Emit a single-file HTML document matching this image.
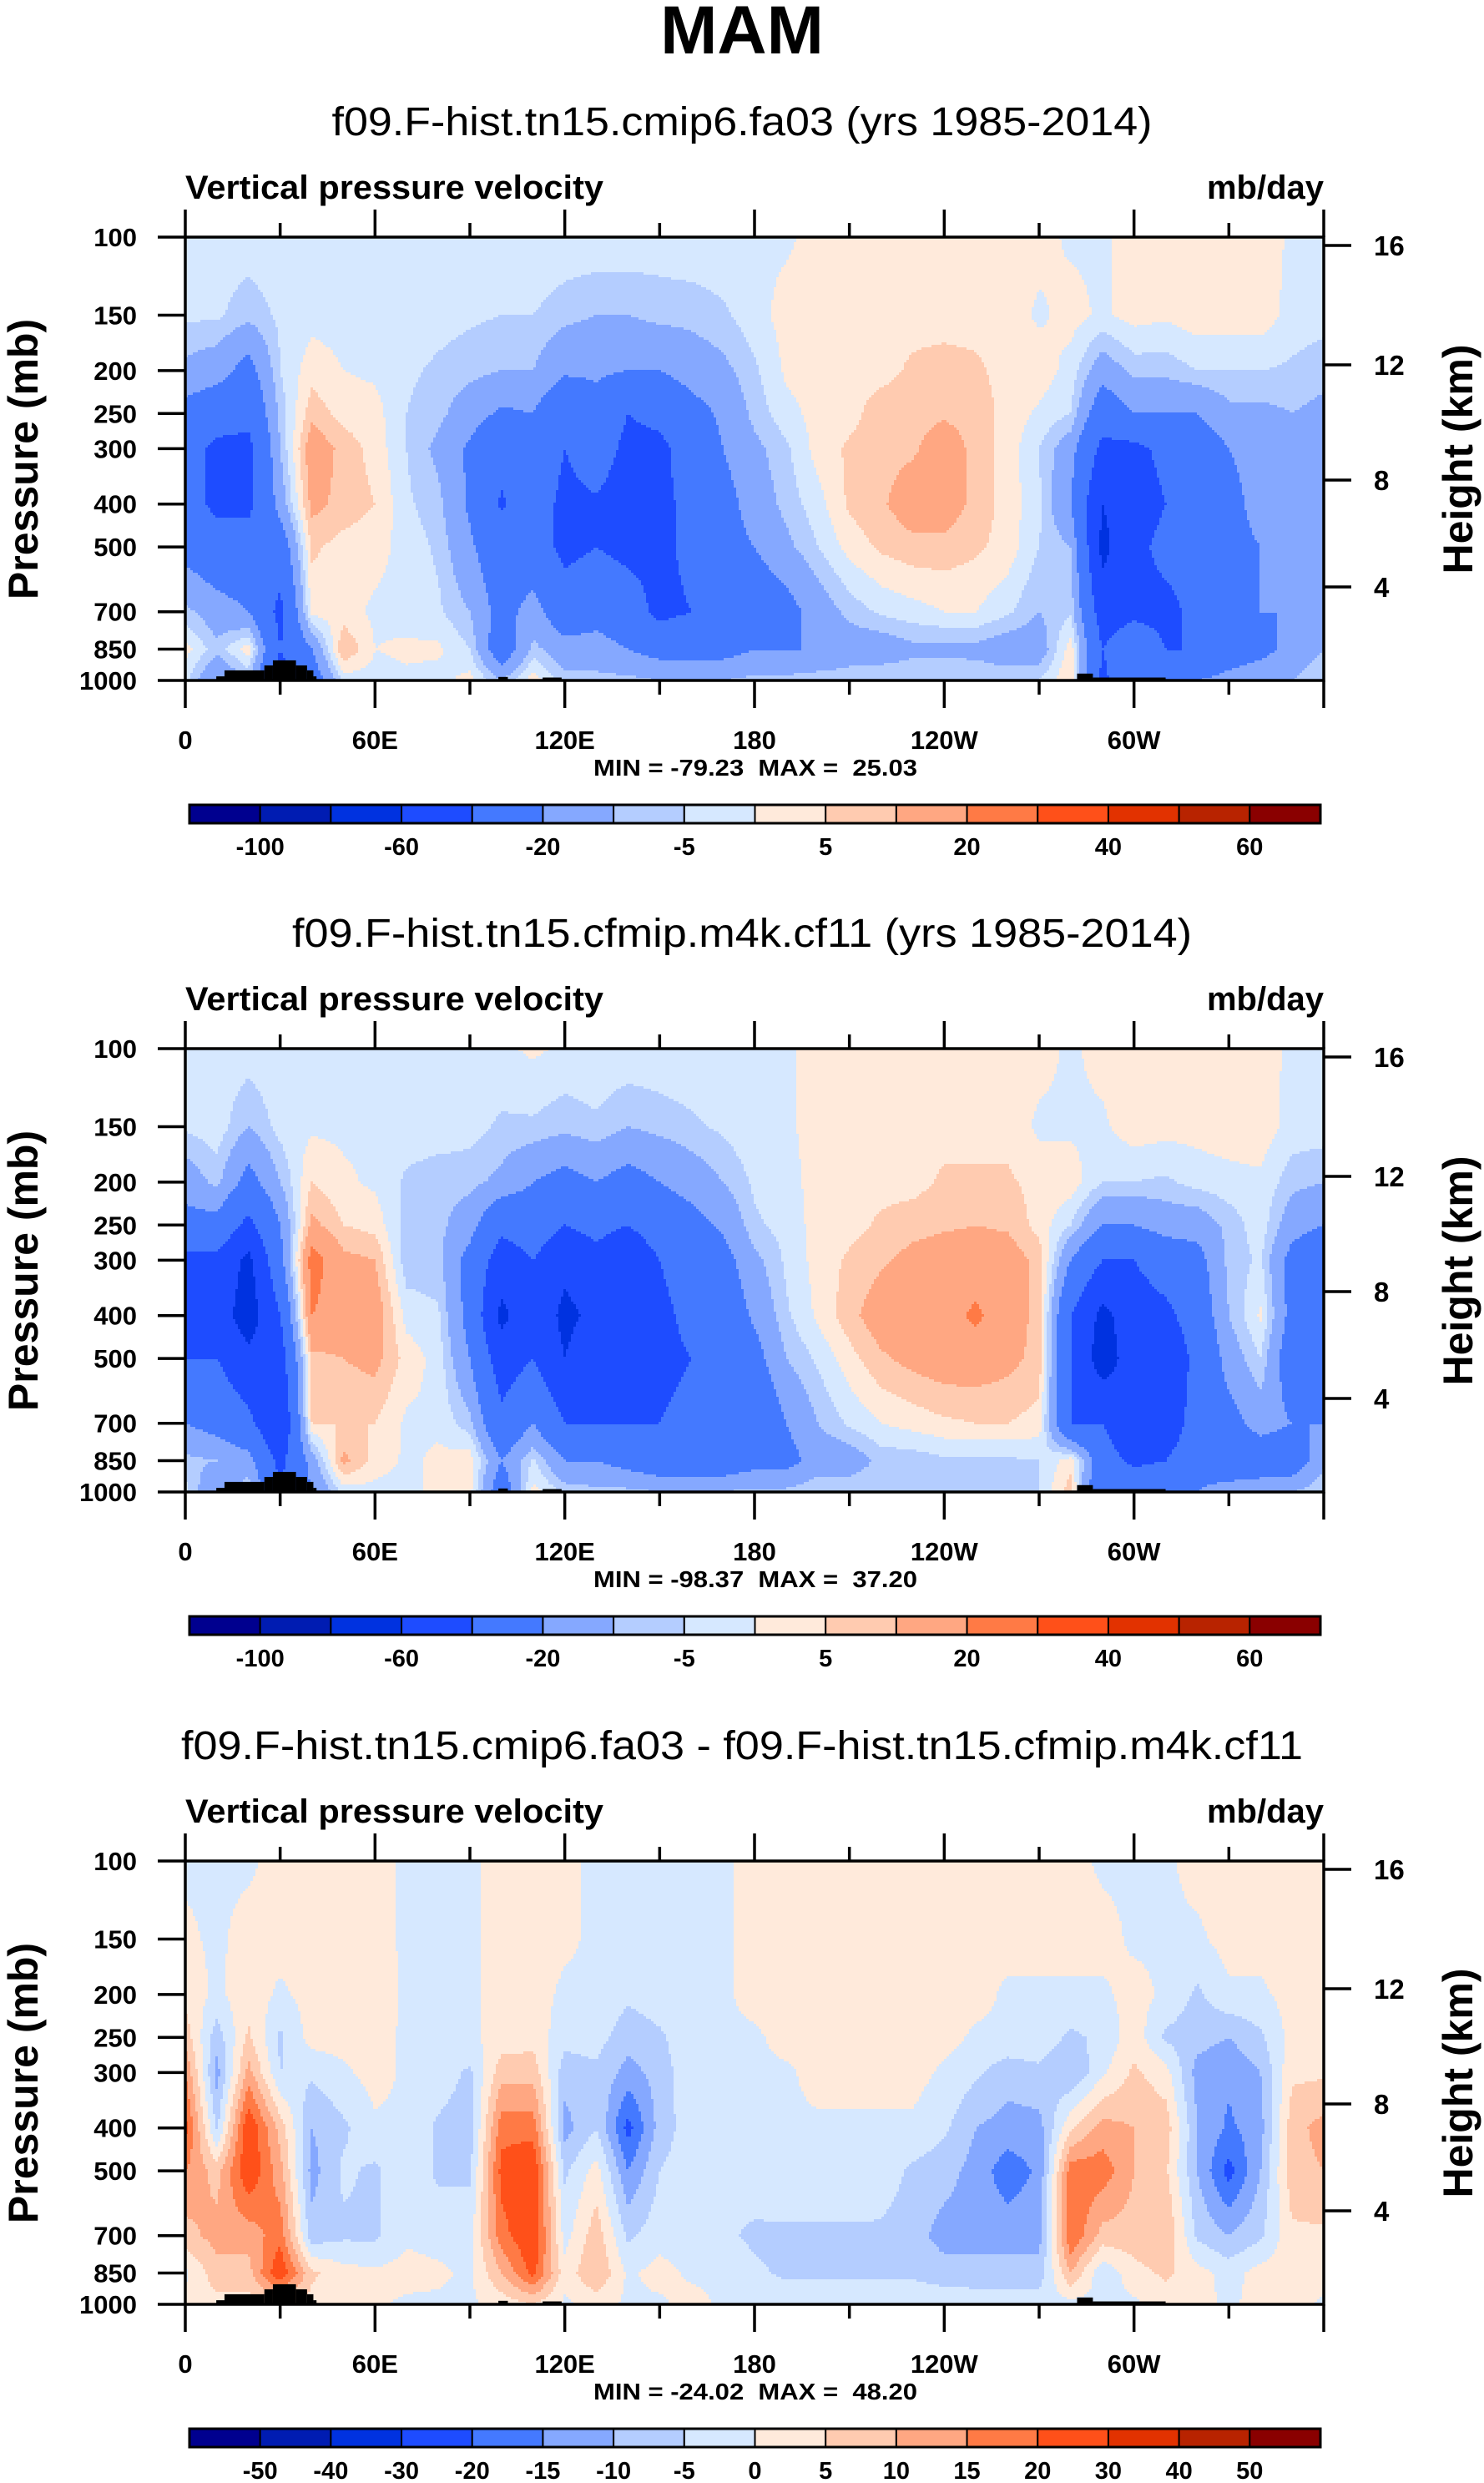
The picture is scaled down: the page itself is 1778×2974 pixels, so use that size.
<!DOCTYPE html>
<html><head><meta charset="utf-8">
<style>
html,body{margin:0;padding:0;background:#fff;}
svg{display:block;font-family:"Liberation Sans",sans-serif;}
.b{font-weight:bold;}
</style></head>
<body>
<svg id="chart" width="1778" height="2974" viewBox="0 0 1778 2974" xmlns="http://www.w3.org/2000/svg">
<rect x="0" y="0" width="1778" height="2974" fill="#fff"/>
<text x="889" y="64" text-anchor="middle" class="b" font-size="82">MAM</text>
</svg>
<script>
// ---- data ----
const lons = [0,10,20,30,40,50,60,70,80,90,100,110,120,130,140,150,160,170,180,190,200,210,220,230,240,250,260,270,280,290,300,310,320,330,340,350,360];
const pLevels = [100,150,200,250,300,400,500,700,850,1000];
const omega1 = [
[-2,-4,-12,-25,-30,-30,-25,-8,2,-3],
[-2,-4,-15,-30,-45,-45,-30,-15,-8,-20],
[-2,-8,-25,-35,-45,-45,-30,-20,3,-10],
[-1,-4,-5,-8,-10,-15,-30,-45,-40,-50],
[0,-2,3,8,15,12,6,2,-20,-30],
[-2,-2,0,3,8,8,3,2,10,-3],
[-1,-1,-1,2,3,5,2,-1,0,-2],
[-1,-2,-4,-5,-5,-4,-2,-2,1,-1],
[-1,-3,-6,-8,-12,-8,-6,-4,1,-2],
[-1,-4,-8,-15,-22,-22,-18,-10,-5,2],
[0,-5,-10,-22,-35,-42,-30,-25,-30,-10],
[0,-5,-10,-20,-25,-30,-30,-15,-8,3],
[-1,-8,-18,-35,-40,-45,-45,-30,-15,-8],
[-1,-10,-18,-25,-30,-42,-40,-25,-15,-8],
[-1,-10,-20,-40,-45,-50,-45,-30,-20,-8],
[-2,-8,-20,-35,-45,-45,-45,-45,-25,-10],
[-1,-8,-15,-25,-30,-35,-35,-40,-25,-10],
[-1,-6,-12,-18,-20,-25,-25,-30,-25,-10],
[-1,-2,-6,-8,-12,-15,-20,-30,-20,-8],
[-1,2,1,-2,-6,-8,-12,-25,-20,-8],
[2,3,3,2,2,-2,-5,-15,-20,-6],
[2,3,3,3,6,6,2,-8,-15,-6],
[3,3,3,8,8,9,6,-4,-15,-5],
[3,3,6,8,9,14,8,-2,-12,-5],
[3,3,7,9,14,14,8,0,-12,-5],
[2,3,6,8,8,8,6,0,-12,-6],
[3,3,3,3,3,3,3,-4,-15,-6],
[2,-1,3,-1,-5,-4,-5,-10,-15,-5],
[-1,2,-2,-5,-15,-20,-10,-6,3,5],
[-1,-1,-15,-30,-45,-60,-65,-50,-40,-45],
[2,2,-8,-20,-45,-50,-45,-45,-25,-20],
[2,1,-8,-20,-35,-40,-35,-45,-40,-25],
[2,3,-5,-20,-30,-30,-35,-35,-40,-20],
[2,3,-5,-12,-20,-25,-25,-30,-30,-15],
[3,3,-5,-12,-15,-15,-20,-20,-25,-10],
[-1,-2,-6,-10,-15,-15,-15,-20,-15,-10],
[-1,-3,-8,-12,-15,-15,-12,-10,-10,-5]
];
const omega2 = [
[-2,-4,-15,-25,-45,-50,-40,-20,-8,-3],
[-2,-2,-8,-25,-45,-50,-40,-25,-10,-20],
[-2,-10,-25,-45,-65,-70,-55,-35,-15,-5],
[-1,-3,-10,-20,-25,-40,-50,-60,-45,-40],
[-1,-1,5,12,25,20,8,5,-15,-20],
[-1,-1,1,5,12,15,10,5,12,-3],
[-1,-1,-1,3,10,15,12,5,3,-2],
[-1,-2,-6,-7,-8,-2,3,-1,-1,-2],
[-1,-2,-8,-8,-8,-4,-2,-1,1,2],
[-1,-3,-8,-15,-25,-25,-20,-8,3,2],
[-1,-6,-12,-35,-50,-65,-50,-35,-20,-30],
[1,-6,-20,-30,-40,-45,-40,-20,-4,2],
[-1,-8,-25,-40,-55,-65,-60,-40,-20,-6],
[-1,-6,-20,-35,-45,-55,-45,-40,-20,-8],
[-1,-10,-25,-40,-55,-60,-55,-40,-25,-8],
[-1,-8,-20,-30,-40,-45,-45,-40,-30,-10],
[-1,-6,-15,-25,-30,-35,-40,-35,-30,-10],
[-1,-4,-10,-18,-25,-30,-35,-40,-30,-10],
[-1,-1,-4,-6,-12,-18,-25,-35,-25,-8],
[-1,-1,-2,-3,-4,-6,-10,-20,-25,-8],
[2,2,2,2,2,1,-4,-10,-15,-5],
[2,2,3,3,6,8,3,-4,-15,-5],
[2,3,3,6,9,14,9,0,-8,-5],
[2,3,3,8,12,14,12,2,-8,-5],
[2,3,6,9,14,16,14,4,-6,-5],
[2,3,6,10,14,22,14,5,-6,-5],
[2,3,6,9,14,14,12,5,-6,-5],
[2,-1,3,3,8,8,8,3,-5,-5],
[-1,-1,3,-5,-20,-40,-40,-40,3,8],
[2,-1,-5,-20,-40,-65,-70,-40,-30,-40],
[3,3,-5,-20,-40,-50,-50,-60,-45,-20],
[2,2,-6,-15,-30,-45,-55,-55,-40,-20],
[2,2,-3,-15,-25,-30,-35,-30,-25,-20],
[2,3,-2,-8,-8,-10,-15,-25,-30,-15],
[2,3,-1,-2,-4,1,-5,-15,-30,-12],
[-1,-2,-8,-15,-25,-25,-30,-20,-30,-10],
[-1,-2,-10,-20,-35,-35,-25,-20,-12,-5]
];
const omegaDiff = [
[-1,1,3,8,15,22,15,8,-1,2],
[-1,-1,-1,-8,-12,-6,8,12,8,3],
[-1,2,3,6,12,25,25,12,8,3],
[2,2,-1,-6,-5,8,12,18,25,5],
[2,2,2,2,-4,-10,-12,-8,6,3],
[2,2,2,2,-1,-6,-4,-6,2,2],
[2,2,3,2,2,-1,-6,-6,1,1],
[-1,-1,-1,-1,-1,-1,-1,-1,2,-1],
[-1,-1,-1,-1,-2,-6,-6,-2,1,-1],
[-1,-1,-1,-1,-6,-8,-6,-2,-1,-1],
[2,2,2,2,8,18,22,18,10,2],
[2,2,2,3,8,18,25,25,22,5],
[1,1,-1,-3,-8,-12,-6,-2,2,-1],
[-1,-1,-1,-3,-6,-5,2,8,10,2],
[-1,-2,-4,-8,-12,-22,-15,-6,-1,-1],
[-1,-1,-2,-6,-8,-8,-5,-2,2,-1],
[-1,-1,-1,-1,-1,-2,-2,-4,-1,2],
[-1,-1,-1,-1,-1,-1,-4,-4,-1,-1],
[2,2,2,-1,-1,-1,-2,-6,-4,-1],
[2,2,2,2,-1,-1,-1,-6,-6,-1],
[2,2,2,2,2,-1,-1,-6,-6,-1],
[2,2,2,2,2,-1,-1,-6,-6,-1],
[2,2,2,2,2,-1,-2,-6,-6,-1],
[2,2,2,2,2,-1,-6,-8,-6,-1],
[2,2,2,2,-1,-4,-8,-12,-8,-1],
[2,2,2,-1,-4,-10,-12,-12,-8,-2],
[2,2,-1,-1,-8,-12,-18,-12,-8,-2],
[2,2,-1,-2,-6,-12,-14,-12,-8,-2],
[2,2,-1,-6,-10,4,18,20,10,-2],
[-1,2,-1,-4,-1,12,18,8,-4,-1],
[-1,-1,2,3,6,10,10,8,3,-1],
[-1,-1,-1,-6,2,8,6,10,6,2],
[2,-1,-6,-8,-12,-10,-10,-6,2,2],
[2,2,-1,-10,-14,-16,-22,-10,-2,-1],
[2,2,-1,-6,-10,-12,-10,-6,2,2],
[2,2,2,2,4,8,8,4,2,2],
[2,2,2,2,4,12,10,4,2,-1]
];
const levelsAbs = [-100,-80,-60,-40,-20,-10,-5,0,5,10,20,30,40,50,60];
const levelsDiff = [-50,-40,-30,-20,-15,-10,-5,0,5,10,15,20,30,40,50];
const cbLabelsAbs = ["-100","","-60","","-20","","-5","","5","","20","","40","","60"];
const cbLabelsDiff = ["-50","-40","-30","-20","-15","-10","-5","0","5","10","15","20","30","40","50"];
const palette = ["#00008f","#001cb2","#0032e0","#1e4cff","#4479ff","#85a8ff","#b4cdff","#d6e8ff","#ffeadb","#ffcbb0","#ffa782","#ff7a45","#ff5019","#e23200","#b82300","#8a0000"];
const topoStart = [9.8,12.4,25,27.7,35,38.5,40.5,99,113,282,287];
const topoEnd   = [12.4,25,27.7,35,38.5,40.5,41.5,102,119,287,310];
const topoP     = [979,949,925,901,925,949,979,982,985,965,985];
const pTicks = [100,150,200,250,300,400,500,700,850,1000];
const kmTicks = ["16","12","8","4"];
const lonTickVals = [0,60,120,180,240,300];
const lonTickLabels = ["0","60E","120E","180","120W","60W"];
const subtitles = ["f09.F-hist.tn15.cmip6.fa03 (yrs 1985-2014)","f09.F-hist.tn15.cfmip.m4k.cf11 (yrs 1985-2014)","f09.F-hist.tn15.cmip6.fa03 - f09.F-hist.tn15.cfmip.m4k.cf11"];
const subtitleWidths = [983,1078,1344];
const minmax = ["MIN = -79.23  MAX =  25.03","MIN = -98.37  MAX =  37.20","MIN = -24.02  MAX =  48.20"];

// ---- layout ----
const NS = "http://www.w3.org/2000/svg";
const svg = document.getElementById('chart');
const X0 = 222, W = 1364, H = 531;
const panelTops = [284, 1256, 2229];
const kmOffsets = [10,153,291,419];
function xOf(lon){ return X0 + lon / 360 * W; }
function yOf(p, top){ return top + H * Math.log10(p / 100); }
function mk(tag, attrs, parent){
  const e = document.createElementNS(NS, tag);
  for (const k in attrs) e.setAttribute(k, attrs[k]);
  (parent || svg).appendChild(e);
  return e;
}
function valueAt(data, lon, p){
  let j = Math.floor(lon / 10); if (j > 35) j = 35; if (j < 0) j = 0;
  const t = (lon - lons[j]) / 10;
  const lp = Math.log10(p);
  let k = 0;
  while (k < pLevels.length - 2 && Math.log10(pLevels[k + 1]) < lp) k++;
  const l0 = Math.log10(pLevels[k]), l1 = Math.log10(pLevels[k + 1]);
  let s = (lp - l0) / (l1 - l0); s = Math.max(0, Math.min(1, s));
  const a = data[j][k] * (1 - s) + data[j][k + 1] * s;
  const b = data[j + 1][k] * (1 - s) + data[j + 1][k + 1] * s;
  return a * (1 - t) + b * t;
}
function colorIdx(v, levels){
  let i = 0;
  while (i < levels.length && v >= levels[i]) i++;
  return i;
}
function drawField(data, levels, top, pi){
  const g = mk('g', {}, svg);
  
  
  const step = 3;
  for (let yi = 0; yi < H; yi += step){
    const h = Math.min(step, H - yi);
    const p = 100 * Math.pow(10, (yi + h / 2) / H);
    let runStart = 0, runC = -1;
    for (let xi = 0; ; xi += step){
      const end = xi >= W;
      let c = -2;
      if (!end){
        const lon = Math.min((xi + step / 2) / W * 360, 360);
        c = colorIdx(valueAt(data, lon, p), levels);
      }
      if (c !== runC){
        if (runC >= 0){
          const r = mk('rect', {x: X0 + runStart, y: top + yi, width: Math.min(xi, W) - runStart + 0.6, height: h + 0.6, fill: palette[runC]}, g);
          
          
        }
        runStart = xi; runC = c;
      }
      if (end) break;
    }
  }
  for (let i = 0; i < topoStart.length; i++){
    const y = yOf(topoP[i], top);
    const t = mk('rect', {x: xOf(topoStart[i]), y: y, width: xOf(topoEnd[i]) - xOf(topoStart[i]), height: top + H - y, fill: '#000'}, g);
    
    
  }
}
function txt(x, y, s, size, attrs, name){
  const t = mk('text', Object.assign({x: x, y: y, 'font-size': size}, attrs || {}));
  t.textContent = s;
  
  
  return t;
}
function drawPanel(pi, data, levels, cbLabels){
  const top = panelTops[pi];
  txt(889, top - 122, subtitles[pi], 48, {'text-anchor': 'middle', textLength: subtitleWidths[pi], lengthAdjust: 'spacingAndGlyphs'}, 'panel-title');
  txt(X0, top - 46, 'Vertical pressure velocity', 40, {'class': 'b', textLength: 501, lengthAdjust: 'spacingAndGlyphs'}, 'variable-label');
  txt(X0 + W, top - 46, 'mb/day', 40, {'class': 'b', 'text-anchor': 'end'}, 'units-label');
  drawField(data, levels, top, pi);
  const frame = mk('rect', {x: X0, y: top, width: W, height: H, fill: 'none', stroke: '#000', 'stroke-width': 3.5});
  
  
  pTicks.forEach(function(p){
    const y = yOf(p, top);
    const l = mk('line', {x1: X0 - 33, x2: X0, y1: y, y2: y, stroke: '#000', 'stroke-width': 3.5});
    
    
    txt(164, y + 11, String(p), 31, {'class': 'b', 'text-anchor': 'end'}, 'y-tick-label');
  });
  kmTicks.forEach(function(k, i){
    const y = top + kmOffsets[i];
    const l = mk('line', {x1: X0 + W, x2: X0 + W + 33, y1: y, y2: y, stroke: '#000', 'stroke-width': 3.5});
    
    
    txt(1646, y + 12, k, 33, {'class': 'b'}, 'height-tick-label');
  });
  for (let lon = 0; lon <= 360; lon += 30){
    const major = lon % 60 === 0;
    const x = xOf(lon);
    const len = major ? 33 : 17;
    const b = mk('line', {x1: x, x2: x, y1: top + H, y2: top + H + len, stroke: '#000', 'stroke-width': 3.5});
    
    
    const t = mk('line', {x1: x, x2: x, y1: top, y2: top - len, stroke: '#000', 'stroke-width': 3.5});
    
    
  }
  lonTickVals.forEach(function(lon, i){
    txt(xOf(lon), top + H + 82, lonTickLabels[i], 31, {'class': 'b', 'text-anchor': 'middle'}, 'x-tick-label');
  });
  txt(905, top + H + 114, minmax[pi], 28, {'class': 'b', 'text-anchor': 'middle', textLength: 388, lengthAdjust: 'spacingAndGlyphs', 'xml:space': 'preserve', style: 'white-space:pre'}, 'min-max-label');
  txt(0, 0, 'Pressure (mb)', 50, {'class': 'b', 'text-anchor': 'middle', transform: 'translate(45,' + (top + 266) + ') rotate(-90)'}, 'y-axis-title');
  txt(0, 0, 'Height (km)', 50, {'class': 'b', 'text-anchor': 'middle', transform: 'translate(1764,' + (top + 266) + ') rotate(-90)'}, 'right-axis-title');
  const cbX = 227, cbW = 1355, cbY = top + 680, cbH = 22, bw = cbW / 16;
  const cg = mk('g', {});
  
  
  for (let i = 0; i < 16; i++){
    const r = mk('rect', {x: cbX + i * bw, y: cbY, width: bw, height: cbH, fill: palette[i], stroke: '#000', 'stroke-width': 2}, cg);
    
    
  }
  const cf = mk('rect', {x: cbX, y: cbY, width: cbW, height: cbH, fill: 'none', stroke: '#000', 'stroke-width': 3}, cg);
  
  
  cbLabels.forEach(function(s, i){
    if (s) txt(cbX + (i + 1) * bw, cbY + 60, s, 29, {'class': 'b', 'text-anchor': 'middle'}, 'colorbar-label');
  });
}
drawPanel(0, omega1, levelsAbs, cbLabelsAbs);
drawPanel(1, omega2, levelsAbs, cbLabelsAbs);
drawPanel(2, omegaDiff, levelsDiff, cbLabelsDiff);
</script>
</body></html>
